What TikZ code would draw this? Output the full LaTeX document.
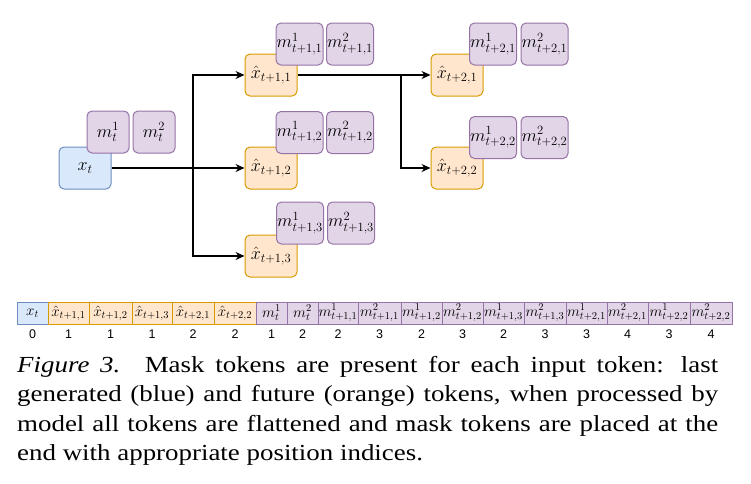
\RequirePackage{fix-cm}
\documentclass[tikz,border=0pt]{standalone}
\usepackage[no-math]{fontspec}
\setmainfont{Liberation Serif}
\newfontfamily\capfont[FakeStretch=1.17]{Liberation Serif}
\newfontfamily\numfont{Liberation Sans}
\usetikzlibrary{arrows.meta}
\definecolor{bfill}{HTML}{DAE8FC}
\definecolor{bdraw}{HTML}{6C8EBF}
\definecolor{ofill}{HTML}{FFE6CC}
\definecolor{odraw}{HTML}{D79B00}
\definecolor{pfill}{HTML}{E1D5E7}
\definecolor{pdraw}{HTML}{9673A6}
\tikzset{
  box/.style={rounded corners=5pt, line width=1pt, inner sep=0pt, font=\fontsize{18}{18}\selectfont},
  xb/.style={box, fill=bfill, draw=bdraw, minimum width=52pt, minimum height=42pt},
  ob/.style={box, fill=ofill, draw=odraw, minimum width=52pt, minimum height=42pt},
  mb/.style={box, fill=pfill, draw=pdraw, minimum width=47pt, minimum height=42pt},
  msb/.style={box, fill=pfill, draw=pdraw, minimum width=42pt, minimum height=42pt},
  arr/.style={line width=1.2pt, -{Stealth[length=9pt,width=8pt]}},
  cell/.style={line width=0.9pt, inner sep=0pt, minimum height=22pt, font=\fontsize{15}{15}\selectfont},
  bc/.style={cell, fill=bfill, draw=bdraw},
  oc/.style={cell, fill=ofill, draw=odraw},
  pc/.style={cell, fill=pfill, draw=pdraw},
  num/.style={inner sep=0pt, font=\numfont\fontsize{12.5}{12.5}\selectfont},
}
\begin{document}
\begin{tikzpicture}[x=1pt, y=-1pt]
\useasboundingbox (0,0) rectangle (751,483);
% top diagram: token boxes
\node[xb] (xt) at (85,168) {$x_t$};
\node[msb] (mt1) at (108,132) {$m_t^1$};
\node[msb] (mt2) at (154,132) {$m_t^2$};

\node[ob] (x11) at (271,75) {$\hat{x}_{t+1,1}$};
\node[mb] (m111) at (299.5,44) {$m^1_{t+1,1}$};
\node[mb] (m211) at (350,44) {$m^2_{t+1,1}$};

\node[ob] (x12) at (271,168) {$\hat{x}_{t+1,2}$};
\node[mb] (m112) at (299.5,132.5) {$m^1_{t+1,2}$};
\node[mb] (m212) at (350,132.5) {$m^2_{t+1,2}$};

\node[ob] (x13) at (271,256) {$\hat{x}_{t+1,3}$};
\node[mb] (m113) at (300,223) {$m^1_{t+1,3}$};
\node[mb] (m213) at (351,223) {$m^2_{t+1,3}$};

\node[ob] (x21) at (457,75) {$\hat{x}_{t+2,1}$};
\node[mb] (m121) at (493,44) {$m^1_{t+2,1}$};
\node[mb] (m221) at (544.5,44) {$m^2_{t+2,1}$};

\node[ob] (x22) at (457,168) {$\hat{x}_{t+2,2}$};
\node[mb] (m122) at (493,137.5) {$m^1_{t+2,2}$};
\node[mb] (m222) at (544.5,137.5) {$m^2_{t+2,2}$};

% connectors
\coordinate (j1) at (193,168);
\coordinate (j2) at (401,75);
\draw[arr] (xt.east) -- (x12.west);
\draw[arr] (j1) |- (x11.west);
\draw[arr] (j1) |- (x13.west);
\draw[arr] (x11.east) -- (x21.west);
\draw[arr] (j2) |- (x22.west);

% flattened sequence
\node[bc, minimum width=31pt] (c0) at (32.5,313) {$x_t$};
\node[oc, minimum width=41pt] (c1) at (68.5,313) {$\hat{x}_{t+1,1}$};
\node[oc, minimum width=43pt] (c2) at (110.5,313) {$\hat{x}_{t+1,2}$};
\node[oc, minimum width=40pt] (c3) at (152,313) {$\hat{x}_{t+1,3}$};
\node[oc, minimum width=42pt] (c4) at (193,313) {$\hat{x}_{t+2,1}$};
\node[oc, minimum width=42pt] (c5) at (235,313) {$\hat{x}_{t+2,2}$};
\node[pc, minimum width=31pt] (c6) at (271.5,313) {$m_t^1$};
\node[pc, minimum width=31pt] (c7) at (302.5,313) {$m_t^2$};
\node[pc, minimum width=40pt] (c8) at (338,313) {$m^1_{t+1,1}$};
\node[pc, minimum width=43pt] (c9) at (379.5,313) {$m^2_{t+1,1}$};
\node[pc, minimum width=41pt] (c10) at (421.5,313) {$m^1_{t+1,2}$};
\node[pc, minimum width=41pt] (c11) at (462.5,313) {$m^2_{t+1,2}$};
\node[pc, minimum width=41pt] (c12) at (503.5,313) {$m^1_{t+1,3}$};
\node[pc, minimum width=42pt] (c13) at (545,313) {$m^2_{t+1,3}$};
\node[pc, minimum width=41pt] (c14) at (586.5,313) {$m^1_{t+2,1}$};
\node[pc, minimum width=41pt] (c15) at (627.5,313) {$m^2_{t+2,1}$};
\node[pc, minimum width=42pt] (c16) at (669,313) {$m^1_{t+2,2}$};
\node[pc, minimum width=42pt] (c17) at (711,313) {$m^2_{t+2,2}$};

% position indices
\foreach \c/\n [count=\k from 0] in {c0/0,c1/1,c2/1,c3/1,c4/2,c5/2,c6/1,c7/2,c8/2,c9/3,c10/2,c11/3,c12/2,c13/3,c14/3,c15/4,c16/3,c17/4}
  \node[num] (n\k) at (\c.center |- 0,334) {\n};

% caption
\node[anchor=north west, text width=701pt, align=justify, inner sep=0pt,
      font=\capfont\fontsize{23}{29.5}\selectfont] (cap) at (17,356)
  {{\itshape Figure 3.}\hspace{0.15em} Mask tokens are present for each input token: last\linebreak
   generated (blue) and future (orange) tokens, when processed by\linebreak
   model all tokens are flattened and mask tokens are placed at the\linebreak
   end with appropriate position indices.};
\end{tikzpicture}
\end{document}
